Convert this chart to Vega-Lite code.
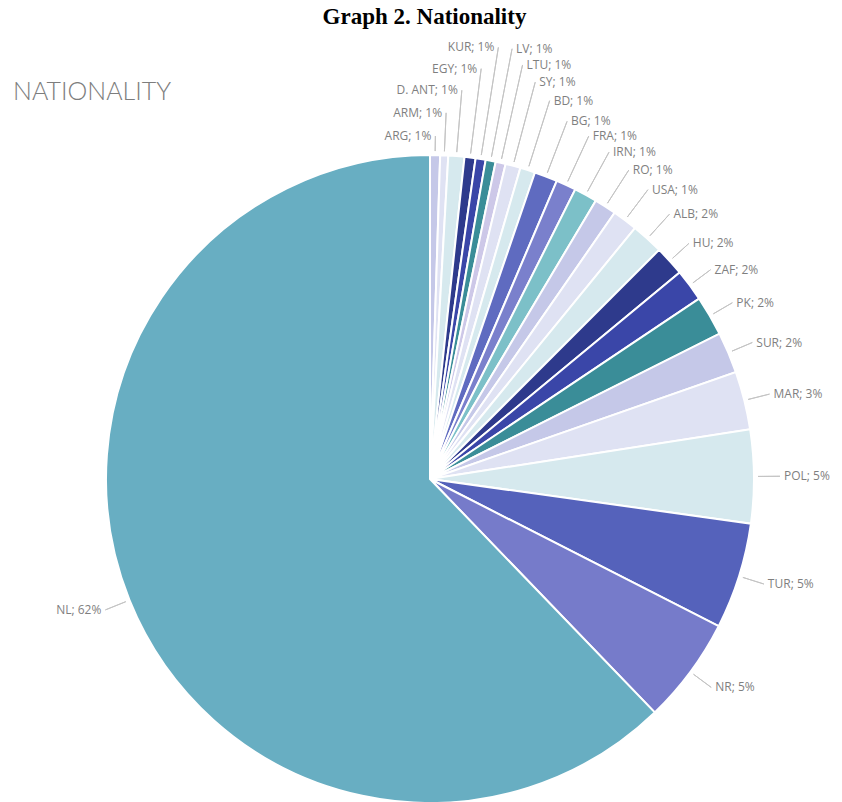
{
  "$schema": "https://vega.github.io/schema/vega-lite/v6.json",
  "background": "white",
  "padding": {"left": 13, "top": 6, "right": 0, "bottom": 0},
  "config": {"view": {"stroke": null}},
  "title": {"text": "Graph 2. Nationality", "font": "Liberation Serif", "fontSize": 23, "fontWeight": "bold", "color": "#000000", "anchor": "middle", "dx": -3, "offset": 12},
  "data": {"values": [
    {"nat": "ARG", "label": "ARG; 1%", "pct": 0.5, "order": 1},
    {"nat": "ARM", "label": "ARM; 1%", "pct": 0.4, "order": 2},
    {"nat": "D. ANT", "label": "D. ANT; 1%", "pct": 0.8, "order": 3},
    {"nat": "EGY", "label": "EGY; 1%", "pct": 0.55, "order": 4},
    {"nat": "KUR", "label": "KUR; 1%", "pct": 0.5, "order": 5},
    {"nat": "LV", "label": "LV; 1%", "pct": 0.5, "order": 6},
    {"nat": "LTU", "label": "LTU; 1%", "pct": 0.5, "order": 7},
    {"nat": "SY", "label": "SY; 1%", "pct": 0.75, "order": 8},
    {"nat": "BD", "label": "BD; 1%", "pct": 0.75, "order": 9},
    {"nat": "BG", "label": "BG; 1%", "pct": 1.15, "order": 10},
    {"nat": "FRA", "label": "FRA; 1%", "pct": 1.0, "order": 11},
    {"nat": "IRN", "label": "IRN; 1%", "pct": 1.15, "order": 12},
    {"nat": "RO", "label": "RO; 1%", "pct": 1.1, "order": 13},
    {"nat": "USA", "label": "USA; 1%", "pct": 1.25, "order": 14},
    {"nat": "ALB", "label": "ALB; 2%", "pct": 1.6, "order": 15},
    {"nat": "HU", "label": "HU; 2%", "pct": 1.5, "order": 16},
    {"nat": "ZAF", "label": "ZAF; 2%", "pct": 1.6, "order": 17},
    {"nat": "PK", "label": "PK; 2%", "pct": 2.0, "order": 18},
    {"nat": "SUR", "label": "SUR; 2%", "pct": 2.05, "order": 19},
    {"nat": "MAR", "label": "MAR; 3%", "pct": 2.9, "order": 20},
    {"nat": "POL", "label": "POL; 5%", "pct": 4.65, "order": 21},
    {"nat": "TUR", "label": "TUR; 5%", "pct": 5.3, "order": 22},
    {"nat": "NR", "label": "NR; 5%", "pct": 5.3, "order": 23},
    {"nat": "NL", "label": "NL; 62%", "pct": 62.2, "order": 24}
  ]},
  "vconcat": [
    {
      "width": 824,
      "height": 648,
      "title": {"text": "NATIONALITY", "anchor": "start", "frame": "group", "font": "Lato", "fontSize": 25, "fontWeight": 300, "color": "#7d7d7d", "dx": -5, "dy": 64, "offset": 0},
      "layer": [
        {
          "mark": {"type": "arc", "outerRadius": 324, "stroke": "white", "strokeWidth": 2, "clip": true},
          "encoding": {
            "theta": {"field": "pct", "type": "quantitative", "stack": true, "scale": {"domain": [0, 100]}},
            "order": {"field": "order", "type": "quantitative"},
            "color": {
              "field": "nat", "type": "nominal", "legend": null,
              "scale": {
                "domain": ["ARG", "ARM", "D. ANT", "EGY", "KUR", "LV", "LTU", "SY", "BD", "BG", "FRA", "IRN", "RO", "USA", "ALB", "HU", "ZAF", "PK", "SUR", "MAR", "POL", "TUR", "NR", "NL"],
                "range": ["#c5c8e8", "#dfe2f3", "#d6e9ee", "#2e3a8c", "#3a46a8", "#3a8d98", "#cdc8e8", "#dfe2f3", "#d6e9ee", "#5f6bc0", "#7a80cc", "#7cc0c8", "#c5c8e8", "#dfe2f3", "#d6e9ee", "#2e3a8c", "#3a46a8", "#3a8d98", "#c5c8e8", "#dfe2f3", "#d6e9ee", "#5562bb", "#767bca", "#68aec2"]
              }
            }
          }
        },
        {
          "transform": [
            {"stack": "pct", "groupby": [], "sort": [{"field": "order", "order": "ascending"}], "as": ["s0", "s1"]},
            {"fold": ["s0", "s1"], "as": ["edge", "ang"]},
            {"aggregate": [{"op": "mean", "field": "ang", "as": "mid"}], "groupby": ["nat", "label", "order"]}
          ],
          "mark": {"type": "arc", "innerRadius": 328, "fillOpacity": 0, "stroke": "#c4c4c4", "strokeWidth": 1},
          "encoding": {
            "theta": {"field": "mid", "type": "quantitative", "stack": null, "scale": {"domain": [0, 100]}},
            "theta2": {"field": "mid"},
            "radius": {"field": "order", "type": "quantitative", "stack": null, "scale": {"type": "linear", "zero": false, "domain": [1, 5, 6, 10, 15, 16, 24], "range": [343, 437, 438, 383, 357, 350, 350]}}
          }
        },
        {
          "transform": [
            {"stack": "pct", "groupby": [], "sort": [{"field": "order", "order": "ascending"}], "as": ["s0", "s1"]},
            {"fold": ["s0", "s1"], "as": ["edge", "ang"]},
            {"aggregate": [{"op": "mean", "field": "ang", "as": "mid"}], "groupby": ["nat", "label", "order"]}
          ],
          "mark": {"type": "text", "font": "Open Sans", "fontSize": 12, "color": "#7f7f7f", "baseline": "middle",
                   "align": {"expr": "datum.order <= 5 || datum.order == 24 ? 'right' : 'left'"},
                   "dx": {"expr": "datum.order <= 5 || datum.order == 24 ? -4 : 4"}},
          "encoding": {
            "theta": {"field": "mid", "type": "quantitative", "stack": null, "scale": {"domain": [0, 100]}},
            "radius": {"field": "order", "type": "quantitative", "stack": null, "scale": {"type": "linear", "zero": false, "domain": [1, 5, 6, 10, 15, 16, 24], "range": [343, 437, 438, 383, 357, 350, 350]}},
            "text": {"field": "label"}
          }
        }
      ]
    }
  ]
}
